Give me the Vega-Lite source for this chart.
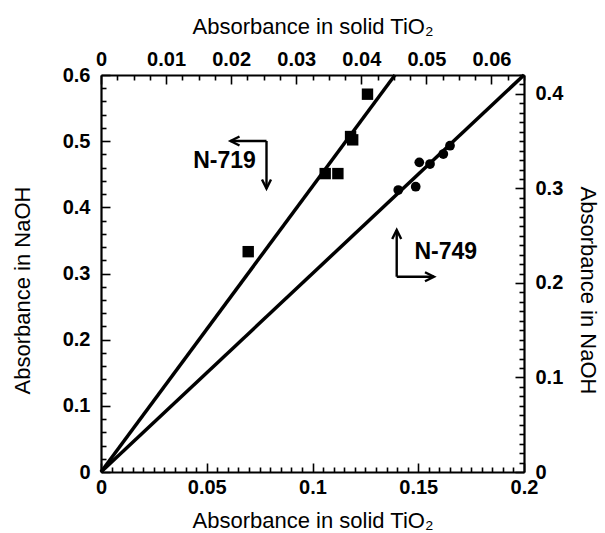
{
  "$schema": "https://vega.github.io/schema/vega-lite/v6.json",
  "width": 423,
  "height": 397,
  "autosize": "none",
  "padding": {"left": 101, "top": 75, "right": 81, "bottom": 61},
  "background": "white",
  "config": {
    "view": {"stroke": null},
    "axis": {
      "grid": false,
      "domainColor": "black",
      "domainWidth": 2.2,
      "tickColor": "black",
      "tickWidth": 1.6,
      "labelFont": "Liberation Sans",
      "labelFontSize": 20,
      "labelFontWeight": "bold",
      "labelColor": "black",
      "labelFlush": false,
      "labelOverlap": false,
      "titleFont": "Liberation Sans",
      "titleFontSize": 22,
      "titleFontWeight": "normal",
      "titleColor": "black",
      "titleAlign": "center",
      "titleBaseline": "middle"
    }
  },
  "datasets": {
    "n719": [
      {"x": 0.0696, "y": 0.333},
      {"x": 0.106, "y": 0.451},
      {"x": 0.112, "y": 0.451},
      {"x": 0.118, "y": 0.507},
      {"x": 0.119, "y": 0.502},
      {"x": 0.126, "y": 0.571}
    ],
    "fit719": [{"x": 0, "y": 0}, {"x": 0.139, "y": 0.6}],
    "shaft719": [
      {"x": 0.07825, "y": 0.5003, "x2": 0.06123, "y2": 0.5003},
      {"x": 0.07825, "y": 0.5003, "x2": 0.07825, "y2": 0.4285}
    ],
    "tipL719": [{"x": 0.06123, "y": 0.5003}],
    "tipD719": [{"x": 0.07825, "y": 0.4285}],
    "lab719": [{"x": 0.0584, "y": 0.4693, "label": "N-719"}],
    "n749": [
      {"x": 0.04568, "y": 0.2983},
      {"x": 0.04836, "y": 0.3018},
      {"x": 0.04891, "y": 0.3276},
      {"x": 0.05056, "y": 0.3258},
      {"x": 0.0526, "y": 0.3364},
      {"x": 0.05363, "y": 0.3452}
    ],
    "fit749": [{"x": 0, "y": 0}, {"x": 0.065, "y": 0.42}],
    "shaft749": [
      {"x": 0.04544, "y": 0.2066, "x2": 0.04544, "y2": 0.256},
      {"x": 0.04544, "y": 0.2066, "x2": 0.05117, "y2": 0.2066}
    ],
    "tipU749": [{"x": 0.04544, "y": 0.256}],
    "tipR749": [{"x": 0.05117, "y": 0.2066}],
    "lab749": [{"x": 0.05298, "y": 0.2331, "label": "N-749"}]
  },
  "layer": [
    {
      "encoding": {
        "x": {
          "field": "x", "type": "quantitative",
          "scale": {"domain": [0, 0.2], "nice": false},
          "axis": {
            "orient": "bottom",
            "title": "Absorbance in solid TiO₂",
            "titleX": 211.5, "titleY": 48,
            "values": [0,0.005,0.01,0.015,0.02,0.025,0.03,0.035,0.04,0.045,0.05,0.055,0.06,0.065,0.07,0.075,0.08,0.085,0.09,0.095,0.1,0.105,0.11,0.115,0.12,0.125,0.13,0.135,0.14,0.145,0.15,0.155,0.16,0.165,0.17,0.175,0.18,0.185,0.19,0.195,0.2],
            "labelExpr": "abs(datum.value/0.05 - round(datum.value/0.05)) < 1e-6 ? format(datum.value, '~g') : ''",
            "tickSize": {"condition": {"test": "abs(datum.value/0.05 - round(datum.value/0.05)) < 1e-6", "value": -9}, "value": -5},
            "labelPadding": 14
          }
        },
        "y": {
          "field": "y", "type": "quantitative",
          "scale": {"domain": [0, 0.6], "nice": false},
          "axis": {
            "orient": "left",
            "title": "Absorbance in NaOH",
            "titleAngle": 270, "titleX": -79, "titleY": 215,
            "values": [0,0.02,0.04,0.06,0.08,0.1,0.12,0.14,0.16,0.18,0.2,0.22,0.24,0.26,0.28,0.3,0.32,0.34,0.36,0.38,0.4,0.42,0.44,0.46,0.48,0.5,0.52,0.54,0.56,0.58,0.6],
            "labelExpr": "abs(datum.value/0.1 - round(datum.value/0.1)) < 1e-6 ? format(datum.value, '~g') : ''",
            "tickSize": {"condition": {"test": "abs(datum.value/0.1 - round(datum.value/0.1)) < 1e-6", "value": -9}, "value": -5},
            "labelPadding": 20
          }
        }
      },
      "layer": [
        {"data": {"name": "fit719"}, "mark": {"type": "line", "color": "black", "strokeWidth": 3.5}},
        {"data": {"name": "n719"}, "mark": {"type": "square", "filled": true, "color": "black", "size": 130, "opacity": 1}},
        {"data": {"name": "shaft719"}, "mark": {"type": "rule", "color": "black", "strokeWidth": 2.4},
         "encoding": {"x2": {"field": "x2"}, "y2": {"field": "y2"}}},
        {"data": {"name": "tipL719"}, "mark": {"type": "point", "shape": "M -1 -0.5 L 0 0 L -1 0.5", "filled": false, "stroke": "black", "strokeWidth": 2.4, "size": 324, "angle": 180, "opacity": 1}},
        {"data": {"name": "tipD719"}, "mark": {"type": "point", "shape": "M -1 -0.5 L 0 0 L -1 0.5", "filled": false, "stroke": "black", "strokeWidth": 2.4, "size": 324, "angle": 90, "opacity": 1}},
        {"data": {"name": "lab719"}, "mark": {"type": "text", "font": "Liberation Sans", "fontSize": 23, "fontWeight": "bold", "align": "center", "baseline": "middle", "color": "black"},
         "encoding": {"text": {"field": "label"}}}
      ]
    },
    {
      "encoding": {
        "x": {
          "field": "x", "type": "quantitative",
          "scale": {"domain": [0, 0.065], "nice": false},
          "axis": {
            "orient": "top",
            "title": "Absorbance in solid TiO₂",
            "titleX": 211.5, "titleY": -49,
            "values": [0,0.0025,0.005,0.0075,0.01,0.0125,0.015,0.0175,0.02,0.0225,0.025,0.0275,0.03,0.0325,0.035,0.0375,0.04,0.0425,0.045,0.0475,0.05,0.0525,0.055,0.0575,0.06,0.0625,0.065],
            "labelExpr": "abs(datum.value/0.01 - round(datum.value/0.01)) < 1e-6 ? format(datum.value, '~g') : ''",
            "tickSize": {"condition": {"test": "abs(datum.value/0.01 - round(datum.value/0.01)) < 1e-6", "value": -9}, "value": -5},
            "labelPadding": 15
          }
        },
        "y": {
          "field": "y", "type": "quantitative",
          "scale": {"domain": [0, 0.42], "nice": false},
          "axis": {
            "orient": "right",
            "title": "Absorbance in NaOH",
            "titleAngle": 90, "titleX": 63, "titleY": 215,
            "values": [0,0.01,0.02,0.03,0.04,0.05,0.06,0.07,0.08,0.09,0.1,0.11,0.12,0.13,0.14,0.15,0.16,0.17,0.18,0.19,0.2,0.21,0.22,0.23,0.24,0.25,0.26,0.27,0.28,0.29,0.3,0.31,0.32,0.33,0.34,0.35,0.36,0.37,0.38,0.39,0.4,0.41,0.42],
            "labelExpr": "abs(datum.value/0.1 - round(datum.value/0.1)) < 1e-6 ? format(datum.value, '~g') : ''",
            "tickSize": {"condition": {"test": "abs(datum.value/0.1 - round(datum.value/0.1)) < 1e-6", "value": -9}, "value": -5},
            "labelPadding": 20
          }
        }
      },
      "layer": [
        {"data": {"name": "fit749"}, "mark": {"type": "line", "color": "black", "strokeWidth": 3.5}},
        {"data": {"name": "n749"}, "mark": {"type": "circle", "color": "black", "size": 95, "opacity": 1}},
        {"data": {"name": "shaft749"}, "mark": {"type": "rule", "color": "black", "strokeWidth": 2.4},
         "encoding": {"x2": {"field": "x2"}, "y2": {"field": "y2"}}},
        {"data": {"name": "tipU749"}, "mark": {"type": "point", "shape": "M -1 -0.5 L 0 0 L -1 0.5", "filled": false, "stroke": "black", "strokeWidth": 2.4, "size": 324, "angle": 270, "opacity": 1}},
        {"data": {"name": "tipR749"}, "mark": {"type": "point", "shape": "M -1 -0.5 L 0 0 L -1 0.5", "filled": false, "stroke": "black", "strokeWidth": 2.4, "size": 324, "angle": 0, "opacity": 1}},
        {"data": {"name": "lab749"}, "mark": {"type": "text", "font": "Liberation Sans", "fontSize": 23, "fontWeight": "bold", "align": "center", "baseline": "middle", "color": "black"},
         "encoding": {"text": {"field": "label"}}}
      ]
    }
  ],
  "resolve": {"scale": {"x": "independent", "y": "independent"}}
}
